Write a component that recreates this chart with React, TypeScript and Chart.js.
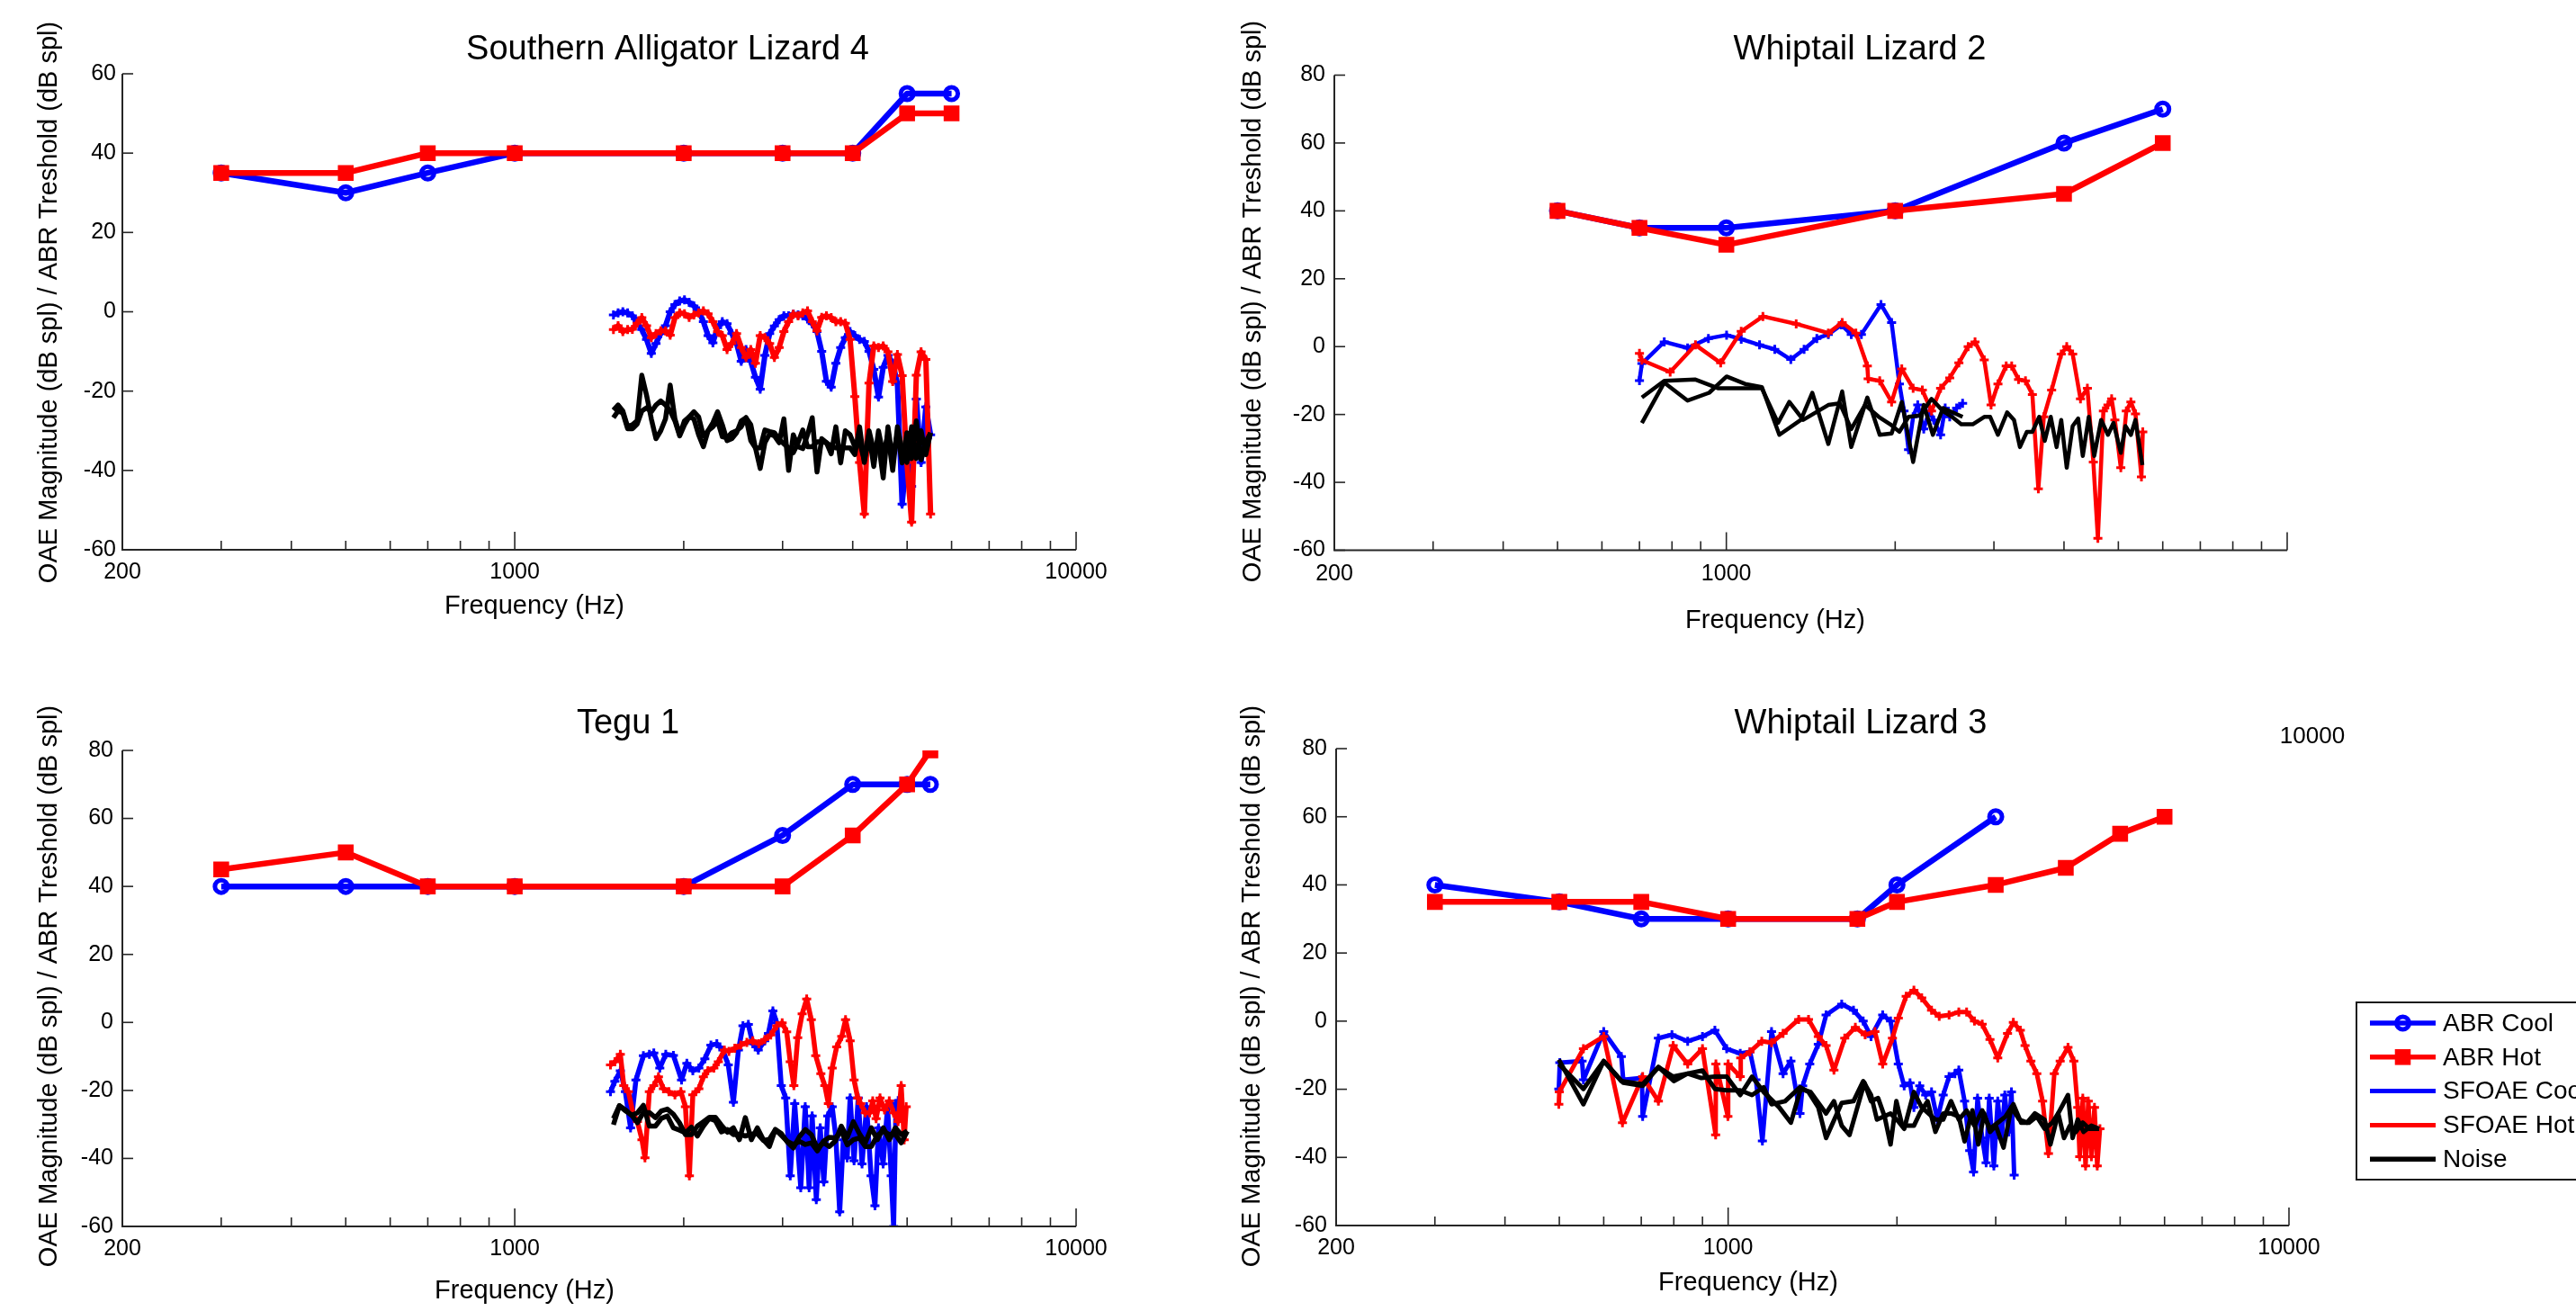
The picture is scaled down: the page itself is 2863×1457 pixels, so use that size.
import React, { useEffect, useRef } from 'react';
import { Chart, registerables } from 'chart.js';

Chart.register(...registerables);

const FONT = "'Liberation Sans', Arial, Helvetica, sans-serif";
const BLUE = '#0000ff';
const RED = '#ff0000';
const BLACK = '#000000';

const Y_LABEL = 'OAE Magnitude (dB spl) / ABR Treshold (dB spl)';
const X_LABEL = 'Frequency (Hz)';
const LEGEND_NAMES = ['ABR Cool', 'ABR Hot', 'SFOAE Cool', 'SFOAE Hot', 'Noise'];

const xTickValues = [200, 300, 400, 500, 600, 700, 800, 900, 1000, 2000, 3000, 4000, 5000, 6000, 7000, 8000, 9000, 10000];
const xMajorTicks = [1000, 10000];
const yTicks60 = [-60, -40, -20, 0, 20, 40, 60];
const yTicks80 = [-60, -40, -20, 0, 20, 40, 60, 80];

// ---------------- Panel 1: Southern Alligator Lizard 4 ----------------
const p1AbrFreq = [300, 500, 700, 1000, 2000, 3000, 4000, 5000, 6000];
const p1AbrCool = [35, 30, 35, 40, 40, 40, 40, 55, 55];
const p1AbrHot = [35, 35, 40, 40, 40, 40, 40, 50, 50];

const p1SfFreq = [1499, 1528, 1558, 1589, 1620, 1652, 1684, 1717, 1751, 1785, 1820, 1856, 1892, 1929, 1967, 2006, 2045, 2085, 2126, 2168, 2210, 2254, 2298, 2343, 2389, 2436, 2484, 2532, 2582, 2633, 2684, 2737, 2790, 2845, 2901, 2958, 3016, 3075, 3135, 3197, 3259, 3323, 3388, 3455, 3522, 3591, 3662, 3733, 3807, 3881, 3957, 4035, 4114, 4195, 4277, 4361, 4446, 4533, 4622, 4713, 4805, 4899, 4995, 5093, 5193, 5295, 5399, 5505];
const p1SfCool = [-0.8, -0.3, 0.0, -0.3, -1.0, -2.5, -4.5, -7.0, -10.5, -8.0, -5.5, -3.5, 0.0, 1.8, 2.7, 3.0, 2.4, 1.5, 0.2, -2.5, -6.0, -7.8, -4.0, -2.5, -3.0, -5.5, -8.0, -12.5, -9.5, -12.5, -16.5, -19.5, -11.0, -5.5, -3.6, -2.0, -1.0, -1.0, -0.6, -0.8, -1.0, -1.8, -3.0, -5.0, -10.0, -17.5, -19.0, -13.0, -9.0, -6.5, -5.0, -6.0, -7.0, -7.5, -10.0, -14.5, -21.5, -14.0, -11.0, -13.0, -18.0, -48.5, -36.0, -44.0, -22.0, -38.0, -24.0, -31.0];
const p1SfHot = [-4.5, -3.5, -5.0, -4.5, -4.4, -2.9, -1.5, -3.5, -6.5, -5.5, -4.8, -4.8, -5.9, -1.5, -0.3, -0.5, -1.4, -0.8, -0.3, 0.2, -0.5, -2.5, -5.0, -6.0, -9.5, -8.0, -5.5, -9.0, -11.5, -9.5, -13.0, -6.0, -6.5, -8.0, -11.5, -9.0, -5.0, -2.5, -0.6, -1.0, -0.3, 0.2, -2.5, -4.8, -1.4, -1.0, -1.5, -2.5, -2.5, -2.9, -7.0, -21.4, -38.0, -51.0, -18.0, -8.6, -9.0, -8.6, -10.1, -17.6, -10.8, -16.1, -38.0, -53.0, -16.0, -10.1, -12.0, -51.0];
const p1NoiseA = [-24.8, -23.5, -25, -29, -28.5, -27.5, -16, -21, -27, -32, -30, -27, -18.5, -27, -31, -27.5, -26.5, -27, -31, -34, -30, -28, -25.2, -28.5, -32.5, -32, -30.5, -27.5, -26.7, -28.5, -34.3, -39.5, -33, -30.8, -31.3, -33, -27, -40, -31, -34, -34.5, -31, -26.7, -40.4, -32, -33, -35.8, -29, -38.1, -30, -31, -34, -32.8, -37.5, -30, -35, -33, -41.9, -29, -37.3, -30.5, -38.1, -30.5, -37, -27.5, -37.3, -32.8, -30.5];
const p1NoiseB = [-26.7, -25, -25.5, -29.5, -29.5, -28.3, -25, -24.2, -25.2, -23.5, -22.5, -23.5, -25, -27.5, -31.3, -28.5, -26.5, -25.2, -26.5, -31.3, -30, -29, -27.5, -31.5, -31.8, -30.5, -30, -29, -26.7, -32.5, -34.3, -34.3, -29.8, -30.2, -30.5, -32.2, -33.3, -34.3, -35.5, -33, -29.8, -34, -34, -32.8, -32.8, -33, -33.8, -34.3, -34.3, -34.3, -34.3, -36, -29, -38, -31, -39, -30, -36, -31, -40, -29, -35, -38, -29, -37, -30, -36, -30.5];

// ---------------- Panel 2: Whiptail Lizard 2 ----------------
const p2AbrFreq = [500, 700, 1000, 2000, 4000, 6000];
const p2AbrCool = [40, 35, 35, 40, 60, 70];
const p2AbrHot = [40, 35, 30, 40, 45, 60];

const p2SfCoolFreq = [700, 707, 775, 853, 929, 1001, 1063, 1146, 1220, 1303, 1376, 1450, 1520, 1603, 1670, 1741, 1887, 1971, 2035, 2074, 2113, 2153, 2194, 2249, 2300, 2343, 2410, 2456, 2502, 2574, 2638];
const p2SfCool = [-10, -5, 1.4, -0.4, 2.4, 3.4, 2.2, 0.5, -0.8, -3.8, -0.8, 2.4, 3.6, 6.4, 3.6, 3.6, 12.4, 7.1, -11, -19, -30.4, -20.7, -17.2, -24.3, -19, -21.6, -26, -18.1, -20.7, -18.1, -16.7];
const p2SfHotFreq = [700, 707, 794, 881, 977, 1063, 1162, 1332, 1520, 1609, 1702, 1784, 1790, 1877, 1971, 2055, 2153, 2236, 2322, 2410, 2502, 2598, 2699, 2776, 2883, 2965, 3050, 3155, 3227, 3319, 3415, 3513, 3600, 3682, 3802, 3955, 4045, 4145, 4280, 4403, 4512, 4597, 4702, 4791, 4864, 4929, 5051, 5166, 5264, 5364, 5497, 5528];
const p2SfHot = [-2, -4, -7.5, 0.5, -4.8, 4.5, 8.9, 6.7, 4.0, 7.1, 4.0, -5.7, -9.5, -10.1, -16.3, -6.6, -12.3, -12.8, -19, -12.3, -9.2, -4.8, 0, 1.4, -3.9, -17.2, -11, -5.7, -5.7, -9.7, -10.1, -14.1, -41.9, -20.7, -12.8, -2.2, 0, -2.2, -15.4, -12.3, -34, -56.5, -19, -17.2, -15.4, -21.6, -35.7, -19, -16.3, -19.8, -38.4, -25.1];
const p2NoiseAFreq = [707, 775, 853, 932, 1001, 1080, 1157, 1243, 1358, 1423, 1520, 1609, 1670, 1784, 1877, 1971, 2055, 2153, 2249, 2335, 2434, 2638];
const p2NoiseA = [-22.5, -10.6, -15.9, -13.6, -8.8, -11, -11.9, -26, -21.6, -13.6, -28.7, -13.2, -29.6, -15, -26, -25.6, -16.3, -34, -17.2, -26, -18.1, -20.7];
const p2NoiseBFreq = [707, 775, 881, 968, 1157, 1236, 1295, 1371, 1520, 1593, 1670, 1767, 1870, 1960, 2035, 2113, 2215, 2322, 2434, 2526, 2623, 2750, 2883, 2954, 3050, 3167, 3258, 3338, 3434, 3513, 3613, 3696, 3788, 3880, 3955, 4045, 4145, 4240, 4321, 4428, 4529, 4659, 4791, 4901, 5051, 5147, 5264, 5364, 5518];
const p2NoiseB = [-15, -10.1, -9.7, -12.3, -12.3, -22.5, -16.3, -21.6, -17.2, -16.7, -24.3, -17.2, -20.7, -22.9, -25.1, -20.7, -20.3, -15.4, -19, -20.7, -22.9, -22.9, -20.7, -20.7, -26, -19.4, -21.6, -29.6, -25.1, -25.1, -20.7, -27.8, -20.7, -29.6, -21.6, -35.7, -23.4, -21.2, -32.2, -20.7, -32.2, -21.6, -26, -22.5, -31.3, -23.4, -26, -21.6, -34.9];

// ---------------- Panel 3: Tegu 1 ----------------
const p3AbrFreq = [300, 500, 700, 1000, 2000, 3000, 4000, 5000, 5500];
const p3AbrCool = [40, 40, 40, 40, 40, 55, 70, 70, 70];
const p3AbrHot = [45, 50, 40, 40, 40, 40, 55, 70, 80];

const p3SfCoolFreq = [1481, 1508, 1542, 1574, 1608, 1644, 1695, 1737, 1769, 1813, 1858, 1917, 1982, 2026, 2076, 2128, 2181, 2236, 2291, 2348, 2401, 2452, 2503, 2550, 2607, 2655, 2715, 2789, 2831, 2883, 2929, 2984, 3039, 3096, 3153, 3232, 3292, 3345, 3387, 3445, 3501, 3553, 3610, 3677, 3732, 3792, 3848, 3910, 3958, 4022, 4092, 4156, 4234, 4313, 4382, 4446, 4531, 4615, 4684, 4731, 4777, 4819];
const p3SfCool = [-20.4, -17.3, -14.2, -20.4, -31, -16.9, -9.8, -9.4, -9, -13.4, -9.4, -9.7, -16.9, -12, -14.2, -13.4, -10.7, -6.7, -6.3, -8.1, -12.5, -23.5, -8.1, -1, -0.6, -6.3, -8.1, -5.4, -3.2, 3.4, -0.1, -18.6, -22.2, -45.1, -23.9, -48.6, -24.8, -48.6, -27.5, -52.1, -31, -46.9, -27.5, -24.8, -33.6, -55.7, -34.5, -39.8, -22.2, -40.7, -22.2, -41.6, -24.8, -45.1, -53.9, -31, -41.6, -24.8, -45.1, -60, -23.9, -23];
const p3SfHotFreq = [1481, 1508, 1542, 1564, 1594, 1624, 1654, 1685, 1706, 1737, 1769, 1803, 1840, 1882, 1929, 1977, 2014, 2047, 2076, 2128, 2168, 2208, 2263, 2305, 2363, 2407, 2466, 2527, 2591, 2655, 2721, 2789, 2858, 2929, 2995, 3051, 3096, 3142, 3192, 3251, 3312, 3375, 3437, 3510, 3567, 3620, 3677, 3745, 3824, 3884, 3958, 4022, 4083, 4134, 4210, 4289, 4342, 4403, 4474, 4557, 4647, 4731, 4819, 4880, 4940, 4982];
const p3SfHot = [-12.5, -11.6, -9.4, -18.6, -20.4, -26.6, -29.2, -34.5, -39.8, -20.4, -18.6, -16, -19.5, -20.4, -21.3, -20.4, -24.8, -45.1, -21.3, -19.5, -16, -14.2, -13.4, -11.6, -8.1, -8.5, -7.6, -6.7, -5.9, -5.4, -6.3, -5, -3.7, -1, -0.1, -2.8, -11.6, -18.6, -4.5, 2.5, 6.9, 0.8, -9.8, -15.1, -18.6, -23.9, -13.4, -7.2, -4.1, 0.8, -5.4, -16.9, -22.2, -23.9, -26.6, -26.6, -23.1, -28.3, -22.2, -25.7, -23.1, -26.6, -29.2, -18.6, -34.5, -24.8];
const p3NoiseFreq = [1499, 1536, 1574, 1614, 1654, 1695, 1737, 1781, 1825, 1870, 1917, 1965, 2014, 2064, 2115, 2168, 2222, 2277, 2334, 2392, 2452, 2513, 2575, 2639, 2705, 2773, 2842, 2912, 2985, 3059, 3135, 3214, 3294, 3376, 3460, 3546, 3634, 3725, 3817, 3912, 4010, 4110, 4212, 4317, 4425, 4535, 4648, 4764, 4882, 5004];
const p3NoiseA = [-30.1, -24.5, -26, -27.2, -29.5, -26.5, -26.5, -28, -26, -25.5, -27, -29.5, -33, -33, -30.5, -29.2, -27.9, -27.9, -30.2, -32.3, -31, -34.5, -28, -34.5, -31, -34.5, -36.5, -31.5, -33.2, -35, -35.9, -35, -35.9, -35.4, -37.8, -35, -33.8, -34, -32, -36, -34.5, -34, -36.5, -36.5, -33.2, -32, -33, -32.9, -35.4, -32];
const p3NoiseB = [-28.3, -24.5, -25.7, -27.3, -26.6, -24.4, -30.5, -30.5, -28.2, -27.5, -31, -31.7, -32.5, -30.8, -33.4, -30.5, -28.2, -28.9, -32.2, -31.5, -33, -32.9, -33.4, -32.9, -32.7, -34.7, -34.4, -31.5, -32.7, -35.2, -36.9, -33.6, -31.5, -33, -37, -35.3, -36.5, -34.9, -30.5, -33.8, -29.2, -32.7, -35.4, -31, -34.5, -31, -34.5, -31, -33, -31.9];

// ---------------- Panel 4: Whiptail Lizard 3 ----------------
const p4AbrCoolFreq = [300, 500, 700, 1000, 1700, 2000, 3000];
const p4AbrCool = [40, 35, 30, 30, 30, 40, 60];
const p4AbrHotFreq = [300, 500, 700, 1000, 1700, 2000, 3000, 4000, 5000, 6000];
const p4AbrHot = [35, 35, 35, 30, 30, 35, 40, 45, 55, 60];

const p4SfCoolFreq = [499, 501, 549, 552, 600, 645, 650, 702, 704, 751, 794, 847, 900, 947, 994, 1051, 1094, 1121, 1151, 1195, 1253, 1294, 1343, 1358, 1398, 1448, 1495, 1594, 1673, 1741, 1798, 1886, 1948, 2011, 2060, 2110, 2144, 2196, 2250, 2305, 2360, 2418, 2477, 2537, 2578, 2640, 2696, 2739, 2784, 2838, 2884, 2921, 2977, 3025, 3074, 3114, 3164, 3200, 3236];
const p4SfCool = [-19.9, -12.2, -11.7, -17.2, -3.1, -10.4, -17.2, -16.7, -28, -5, -4, -5.9, -4.5, -2.7, -8.1, -9.5, -9, -17.2, -35.2, -3.1, -15.4, -11.7, -27.1, -19, -12.6, -6.8, 1.8, 5, 3.2, 0, -4.5, 1.8, 0, -12.6, -19, -18.1, -25.3, -19, -21.7, -20.8, -28.9, -21.7, -16.3, -15.4, -14.4, -23.5, -38, -44.3, -22.6, -34.3, -41.6, -22.6, -42.5, -23.5, -34.3, -21.7, -32.5, -20.8, -45.2];
const p4SfHotFreq = [499, 500, 552, 600, 648, 704, 751, 798, 847, 900, 950, 951, 999, 1000, 1051, 1053, 1094, 1148, 1195, 1253, 1336, 1391, 1448, 1495, 1544, 1614, 1686, 1755, 1827, 1886, 1963, 2011, 2077, 2144, 2214, 2305, 2379, 2477, 2578, 2662, 2749, 2838, 2930, 3025, 3149, 3225, 3319, 3384, 3466, 3551, 3637, 3725, 3816, 3909, 4036, 4134, 4201, 4235, 4289, 4338, 4387, 4443, 4500, 4551, 4602];
const p4SfHot = [-24.4, -20.8, -8.1, -4.5, -29.8, -16.3, -23.5, -7.2, -12.6, -8.1, -33.4, -12.6, -28, -12.6, -16.3, -10.8, -9, -5.9, -6.3, -3.6, 0.5, 0.5, -4.5, -7.2, -14.4, -5, -1.8, -4, -3.1, -12.6, -5, 0.9, 7.3, 9.1, 6.8, 3.2, 1.4, 1.8, 2.7, 2.7, 0, -0.9, -5.4, -10.8, -3.6, -0.4, -2.7, -7.2, -11.7, -15.4, -23.5, -38.9, -15.4, -11.7, -7.7, -11.7, -25.3, -39.8, -22.6, -42.5, -23.5, -39.8, -25.3, -42.5, -31.6];
const p4NoiseAFreq = [499, 552, 600, 645, 704, 751, 800, 847, 900, 947, 994, 1051, 1103, 1157, 1195, 1263, 1343, 1391, 1448, 1495, 1594, 1673, 1741, 1798, 1842, 1948, 2011, 2060, 2144, 2214, 2342, 2418, 2497, 2578, 2662, 2749, 2838, 2930, 3025, 3123, 3225, 3330, 3439, 3551, 3666, 3785, 3877, 3971, 4067, 4167, 4289, 4406, 4587];
const p4NoiseA = [-11.3, -24.4, -11.7, -17.6, -18.5, -13.5, -17.6, -15.4, -14.5, -19.9, -20.3, -20.3, -21.7, -19.4, -24.4, -23.5, -19.4, -20.8, -25.3, -34.3, -24, -23.5, -17.6, -21.7, -28.9, -27.1, -29.4, -31.6, -20.8, -25.3, -28.9, -28.9, -23.5, -28.9, -26.2, -30.7, -26.2, -31.6, -29.8, -28, -24.4, -29.8, -29.8, -28, -31.6, -29.8, -27.1, -34.3, -30.7, -32.5, -29.8, -31.6, -31.6];
const p4NoiseBFreq = [499, 552, 600, 650, 704, 751, 798, 847, 896, 947, 994, 1051, 1103, 1157, 1233, 1294, 1347, 1403, 1495, 1544, 1594, 1646, 1700, 1750, 1798, 1851, 1901, 1948, 1995, 2044, 2144, 2196, 2268, 2342, 2418, 2497, 2578, 2640, 2726, 2793, 2861, 2930, 3002, 3098, 3200, 3303, 3412, 3523, 3666, 3755, 3877, 4036, 4114, 4201, 4303, 4443, 4587];
const p4NoiseB = [-12.6, -19.9, -11.7, -18.1, -19, -13.5, -16.3, -15.4, -16.7, -16.3, -16.3, -21.7, -16.3, -20.8, -25.3, -29.8, -19.9, -20.8, -27.1, -23.5, -30.7, -33.4, -25.3, -18.1, -23.5, -22.6, -28, -36.2, -23.5, -30.7, -30.7, -27.1, -23.5, -32.5, -27.1, -27.1, -28, -35.3, -26.2, -36.2, -27.1, -32.5, -30.7, -37.1, -25.3, -28.9, -29.8, -27.1, -28.9, -36.2, -27.1, -21.7, -34.3, -28.9, -32.5, -30.7, -31.6];
const p4StrayFreq = [4938];
const p4StrayVal = [94.5];

// ---------------------------------------------------------------
const Y_W = 60;
const X_H = 50;

function pts(xs: number[], ys: number[]) {
  return xs.map((x, i) => ({ x, y: ys[i] }));
}

const decorPlugin = {
  id: 'decor',
  afterDraw(chart: any, _args: any, o: any) {
    const ctx = chart.ctx;
    const a = chart.chartArea;
    const xs = chart.scales.x;
    const ys = chart.scales.y;
    ctx.save();
    ctx.strokeStyle = '#262626';
    ctx.lineWidth = 2;
    ctx.beginPath();
    ctx.moveTo(a.left, a.top);
    ctx.lineTo(a.left, a.bottom);
    ctx.lineTo(a.right, a.bottom);
    ctx.stroke();
    ctx.lineWidth = 1.6;
    for (const v of xTickValues) {
      const px = xs.getPixelForValue(v);
      const len = xMajorTicks.includes(v) ? 20 : 10;
      ctx.beginPath();
      ctx.moveTo(px, a.bottom);
      ctx.lineTo(px, a.bottom - len);
      ctx.stroke();
    }
    for (const v of o.yTicks) {
      const py = ys.getPixelForValue(v);
      ctx.beginPath();
      ctx.moveTo(a.left, py);
      ctx.lineTo(a.left + 12, py);
      ctx.stroke();
    }
    ctx.fillStyle = '#000';
    ctx.textAlign = 'center';
    ctx.textBaseline = 'alphabetic';
    ctx.font = `38px ${FONT}`;
    ctx.fillText(o.title.text, o.title.x, o.title.y);
    ctx.font = `29px ${FONT}`;
    ctx.fillText(X_LABEL, o.xLabel.x, o.xLabel.y);
    ctx.save();
    ctx.translate(o.yLabel.x, o.yLabel.y);
    ctx.rotate(-Math.PI / 2);
    ctx.fillText(Y_LABEL, 0, 0);
    ctx.restore();
    if (o.extras) {
      for (const t of o.extras) {
        ctx.font = `${t.size}px ${FONT}`;
        ctx.textAlign = 'center';
        ctx.textBaseline = 'middle';
        ctx.fillText(t.text, t.x, t.y);
      }
    }
    if (o.legend) {
      const L = o.legend;
      ctx.fillStyle = '#fff';
      ctx.fillRect(L.x, L.y, L.w, L.h);
      ctx.strokeStyle = '#1a1a1a';
      ctx.lineWidth = 2;
      ctx.strokeRect(L.x, L.y, L.w, L.h);
      const items = chart.data.datasets
        .filter((d: any) => d.legendRank)
        .sort((p: any, q: any) => p.legendRank - q.legendRank);
      items.forEach((d: any, i: number) => {
        const y = L.row0 + i * L.rowGap;
        ctx.strokeStyle = d.borderColor;
        ctx.lineWidth = d.legendLineWidth;
        ctx.beginPath();
        ctx.moveTo(L.lineX0, y);
        ctx.lineTo(L.lineX1, y);
        ctx.stroke();
        const mx = (L.lineX0 + L.lineX1) / 2;
        if (d.legendMarker === 'circle') {
          ctx.lineWidth = d.pointBorderWidth;
          ctx.beginPath();
          ctx.arc(mx, y, d.pointRadius, 0, Math.PI * 2);
          ctx.stroke();
        } else if (d.legendMarker === 'rect') {
          const s = d.pointRadius * Math.SQRT2;
          ctx.fillStyle = d.borderColor;
          ctx.fillRect(mx - s / 2 - 1, y - s / 2 - 1, s + 2, s + 2);
        }
        ctx.fillStyle = '#000';
        ctx.font = `28px ${FONT}`;
        ctx.textAlign = 'left';
        ctx.textBaseline = 'middle';
        ctx.fillText(d.label, L.textX, y + 1);
      });
    }
    ctx.restore();
  },
};

type Series = {
  abrCoolF: number[]; abrCool: number[]; abrHotF: number[]; abrHot: number[];
  sfCoolF: number[]; sfCool: number[]; sfHotF: number[]; sfHot: number[];
  noiseAF: number[]; noiseA: number[]; noiseBF: number[]; noiseB: number[];
  strayF?: number[]; stray?: number[];
};

type Panel = {
  left: number; top: number; w: number; h: number;
  area: { l: number; r: number; t: number; b: number };
  yMin: number; yMax: number; yTicks: number[];
  xLabels: number[];
  yTickPad: number; xTickPad: number;
  title: { text: string; x: number; y: number };
  xLabel: { x: number; y: number };
  yLabel: { x: number; y: number };
  lw: { sf: number; noise: number };
  s: Series;
  extras?: { text: string; x: number; y: number; size: number }[];
  legend?: any;
};

const panels: Panel[] = [
  {
    left: 0, top: 0, w: 1340, h: 728,
    area: { l: 136, r: 1196, t: 82, b: 611 },
    yMin: -60, yMax: 60, yTicks: yTicks60, xLabels: [200, 1000, 10000],
    yTickPad: 7, xTickPad: 10,
    title: { text: 'Southern Alligator Lizard 4', x: 742, y: 66 },
    xLabel: { x: 594, y: 682 },
    yLabel: { x: 63, y: 336 },
    lw: { sf: 6, noise: 5.5 },
    s: {
      abrCoolF: p1AbrFreq, abrCool: p1AbrCool, abrHotF: p1AbrFreq, abrHot: p1AbrHot,
      sfCoolF: p1SfFreq, sfCool: p1SfCool, sfHotF: p1SfFreq, sfHot: p1SfHot,
      noiseAF: p1SfFreq, noiseA: p1NoiseA, noiseBF: p1SfFreq, noiseB: p1NoiseB,
    },
  },
  {
    left: 1340, top: 0, w: 1523, h: 728,
    area: { l: 143, r: 1202, t: 83.5, b: 611.5 },
    yMin: -60, yMax: 80, yTicks: yTicks80, xLabels: [200, 1000],
    yTickPad: 10, xTickPad: 12,
    title: { text: 'Whiptail Lizard 2', x: 727, y: 66 },
    xLabel: { x: 633, y: 698 },
    yLabel: { x: 61, y: 335 },
    lw: { sf: 4.5, noise: 4.5 },
    s: {
      abrCoolF: p2AbrFreq, abrCool: p2AbrCool, abrHotF: p2AbrFreq, abrHot: p2AbrHot,
      sfCoolF: p2SfCoolFreq, sfCool: p2SfCool, sfHotF: p2SfHotFreq, sfHot: p2SfHot,
      noiseAF: p2NoiseAFreq, noiseA: p2NoiseA, noiseBF: p2NoiseBFreq, noiseB: p2NoiseB,
    },
  },
  {
    left: 0, top: 728, w: 1340, h: 729,
    area: { l: 136, r: 1196, t: 106, b: 635 },
    yMin: -60, yMax: 80, yTicks: yTicks80, xLabels: [200, 1000, 10000],
    yTickPad: 10, xTickPad: 10,
    title: { text: 'Tegu 1', x: 698, y: 87 },
    xLabel: { x: 583, y: 715 },
    yLabel: { x: 63, y: 368 },
    lw: { sf: 5.5, noise: 5.5 },
    s: {
      abrCoolF: p3AbrFreq, abrCool: p3AbrCool, abrHotF: p3AbrFreq, abrHot: p3AbrHot,
      sfCoolF: p3SfCoolFreq, sfCool: p3SfCool, sfHotF: p3SfHotFreq, sfHot: p3SfHot,
      noiseAF: p3NoiseFreq, noiseA: p3NoiseA, noiseBF: p3NoiseFreq, noiseB: p3NoiseB,
    },
  },
  {
    left: 1340, top: 728, w: 1523, h: 729,
    area: { l: 145, r: 1204, t: 104, b: 634 },
    yMin: -60, yMax: 80, yTicks: yTicks80, xLabels: [200, 1000, 10000],
    yTickPad: 10, xTickPad: 10,
    title: { text: 'Whiptail Lizard 3', x: 728, y: 87 },
    xLabel: { x: 603, y: 706 },
    yLabel: { x: 60, y: 368 },
    lw: { sf: 5, noise: 5 },
    s: {
      abrCoolF: p4AbrCoolFreq, abrCool: p4AbrCool, abrHotF: p4AbrHotFreq, abrHot: p4AbrHot,
      sfCoolF: p4SfCoolFreq, sfCool: p4SfCool, sfHotF: p4SfHotFreq, sfHot: p4SfHot,
      noiseAF: p4NoiseAFreq, noiseA: p4NoiseA, noiseBF: p4NoiseBFreq, noiseB: p4NoiseB,
      strayF: p4StrayFreq, stray: p4StrayVal,
    },
    extras: [{ text: '10000', x: 1230, y: 91, size: 26 }],
    legend: { x: 1279, y: 386, w: 300, h: 197, lineX0: 1294, lineX1: 1367, textX: 1375, row0: 409, rowGap: 37.8 },
  },
];

function buildConfig(p: Panel): any {
  const s = p.s;
  const datasets: any[] = [
    {
      label: LEGEND_NAMES[4], data: pts(s.noiseAF, s.noiseA), borderColor: BLACK, backgroundColor: BLACK,
      borderWidth: p.lw.noise, pointRadius: 0, showLine: true, borderJoinStyle: 'round',
      legendRank: 5, legendLineWidth: 5.5,
    },
    {
      label: LEGEND_NAMES[4], data: pts(s.noiseBF, s.noiseB), borderColor: BLACK, backgroundColor: BLACK,
      borderWidth: p.lw.noise, pointRadius: 0, showLine: true, borderJoinStyle: 'round',
    },
    {
      label: LEGEND_NAMES[3], data: pts(s.sfHotF, s.sfHot), borderColor: RED, backgroundColor: RED,
      borderWidth: p.lw.sf, showLine: true, borderJoinStyle: 'round',
      pointStyle: 'cross', pointRadius: 5, pointBorderWidth: 3, pointBorderColor: RED,
      legendRank: 4, legendLineWidth: 5,
    },
    {
      label: LEGEND_NAMES[2], data: pts(s.sfCoolF, s.sfCool), borderColor: BLUE, backgroundColor: BLUE,
      borderWidth: p.lw.sf, showLine: true, borderJoinStyle: 'round',
      pointStyle: 'cross', pointRadius: 5, pointBorderWidth: 3, pointBorderColor: BLUE,
      legendRank: 3, legendLineWidth: 5,
    },
    {
      label: LEGEND_NAMES[1], data: pts(s.abrHotF, s.abrHot), borderColor: RED, backgroundColor: RED,
      borderWidth: 6.5, showLine: true, borderJoinStyle: 'round',
      pointStyle: 'rect', pointRadius: 11, pointBorderWidth: 2, pointBorderColor: RED, pointBackgroundColor: RED,
      legendRank: 2, legendLineWidth: 5.5, legendMarker: 'rect',
    },
    {
      label: LEGEND_NAMES[0], data: pts(s.abrCoolF, s.abrCool), borderColor: BLUE, backgroundColor: BLUE,
      borderWidth: 6.5, showLine: true, borderJoinStyle: 'round',
      pointStyle: 'circle', pointRadius: 7, pointBorderWidth: 5, pointBorderColor: BLUE,
      pointBackgroundColor: 'rgba(0,0,0,0)',
      legendRank: 1, legendLineWidth: 5.5, legendMarker: 'circle',
    },
  ];
  if (s.strayF && s.stray) {
    datasets.push({
      label: 'stray', data: pts(s.strayF, s.stray), borderColor: RED, backgroundColor: RED,
      pointRadius: 3, pointBorderWidth: 0, showLine: false, clip: false,
    });
  }
  const tickFont = { family: FONT, size: 25 };
  return {
    type: 'scatter',
    data: { datasets },
    options: {
      responsive: false,
      animation: false,
      devicePixelRatio: 1,
      events: [],
      layout: {
        autoPadding: false,
        padding: {
          left: p.area.l - Y_W,
          right: p.w - p.area.r,
          top: p.area.t,
          bottom: p.h - p.area.b - X_H,
        },
      },
      plugins: {
        legend: { display: false },
        title: { display: false },
        tooltip: { enabled: false },
        decor: {
          yTicks: p.yTicks, title: p.title, xLabel: p.xLabel, yLabel: p.yLabel,
          extras: p.extras, legend: p.legend,
        },
      },
      scales: {
        x: {
          type: 'logarithmic',
          position: 'bottom',
          min: 200,
          max: 10000,
          afterBuildTicks: (sc: any) => {
            sc.ticks = xTickValues.map((v) => ({ value: v }));
          },
          afterFit: (sc: any) => {
            sc.height = X_H;
          },
          grid: { display: false, drawTicks: false },
          border: { display: false },
          ticks: {
            autoSkip: false, maxRotation: 0, minRotation: 0, padding: p.xTickPad,
            font: tickFont, color: '#000',
            callback: (v: any) => (p.xLabels.includes(Number(v)) ? String(v) : ''),
          },
        },
        y: {
          type: 'linear',
          position: 'left',
          min: p.yMin,
          max: p.yMax,
          afterBuildTicks: (sc: any) => {
            sc.ticks = p.yTicks.map((v) => ({ value: v }));
          },
          afterFit: (sc: any) => {
            sc.width = Y_W;
          },
          grid: { display: false, drawTicks: false },
          border: { display: false },
          ticks: {
            padding: p.yTickPad, font: tickFont, color: '#000',
            callback: (v: any) => String(v),
          },
        },
      },
    },
    plugins: [decorPlugin],
  };
}

function ChartPanel({ p }: { p: Panel }) {
  const ref = useRef<HTMLCanvasElement | null>(null);
  useEffect(() => {
    const canvas = ref.current;
    if (!canvas) return;
    const chart = new Chart(canvas, buildConfig(p));
    return () => chart.destroy();
  }, [p]);
  return (
    <canvas
      ref={ref}
      width={p.w}
      height={p.h}
      style={{ position: 'absolute', left: p.left, top: p.top, width: p.w, height: p.h }}
    />
  );
}

export default function App() {
  return (
    <div
      style={{
        position: 'absolute', left: 0, top: 0, width: 2863, height: 1457,
        background: '#ffffff', overflow: 'hidden',
      }}
    >
      {panels.map((p, i) => (
        <ChartPanel key={i} p={p} />
      ))}
    </div>
  );
}
